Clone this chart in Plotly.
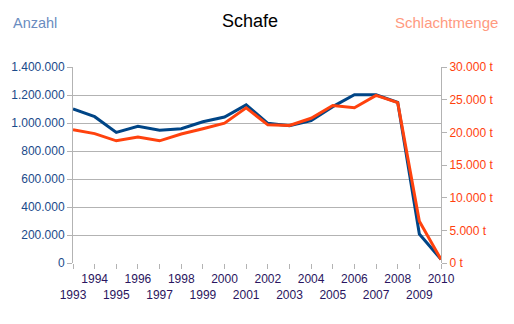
import plotly.graph_objects as go

years = list(range(1993, 2011))
anzahl = [1100000, 1045000, 933000, 976000, 948000, 959000, 1009000, 1043000, 1129000,
          998000, 981000, 1017000, 1117000, 1202000, 1202000, 1148000, 207000, 26000]
schlachtmenge = [20400, 19800, 18700, 19300, 18700, 19750, 20550, 21400, 23750,
                 21150, 21050, 22150, 24100, 23750, 25650, 24550, 6400, 550]
left_ticks = [0, 200000, 400000, 600000, 800000, 1000000, 1200000, 1400000]
right_ticks = [0, 5000, 10000, 15000, 20000, 25000, 30000]
x_labels = [str(y) if y % 2 == 0 else "\u00a0<br>" + str(y) for y in years]
left_labels = [f"{v:,}".replace(",", ".") for v in left_ticks]
right_labels = [f"{v:,}".replace(",", ".") + " t" for v in right_ticks]

BLUE = "#004586"
ORANGE = "#ff420e"
GRID = "#b3b3b3"
FONT = "Liberation Sans"

fig = go.Figure()
fig.add_trace(go.Scatter(x=years, y=anzahl, mode="lines", name="Anzahl",
                         line=dict(color=BLUE, width=3), yaxis="y"))
fig.add_trace(go.Scatter(x=years, y=schlachtmenge, mode="lines", name="Schlachtmenge",
                         line=dict(color=ORANGE, width=3), yaxis="y2"))

fig.update_layout(
    width=514, height=324,
    margin=dict(l=73, r=73, t=67, b=61),
    paper_bgcolor="white", plot_bgcolor="white",
    showlegend=False,
    font=dict(family=FONT, size=12),
    xaxis=dict(
        range=[1993, 2010], tickmode="array", tickvals=years, ticktext=x_labels,
        tickangle=0,
        showgrid=False, zeroline=False, showline=False,
        ticks="outside", ticklen=5, tickcolor=GRID,
        tickfont=dict(color="#2a1560", size=12, family=FONT),
    ),
    yaxis=dict(
        range=[0, 1400000], tickmode="array", tickvals=left_ticks, ticktext=left_labels,
        showgrid=True, gridcolor=GRID, gridwidth=1,
        zeroline=False, showline=True, linecolor=GRID, linewidth=1,
        ticks="outside", ticklen=5, tickcolor=GRID,
        tickfont=dict(color="#1a4a8a", size=12, family=FONT),
    ),
    yaxis2=dict(
        range=[0, 30000], tickmode="array", tickvals=right_ticks, ticktext=right_labels,
        overlaying="y", side="right",
        showgrid=False, zeroline=False, showline=True, linecolor=GRID, linewidth=1,
        ticks="outside", ticklen=5, tickcolor=GRID,
        tickfont=dict(color=ORANGE, size=12, family=FONT),
    ),
)

pw, ph = 514 - 73 - 73, 324 - 67 - 61
headers = [("Schafe", 250, 21, "center", 18, "#000000"),
           ("Anzahl", 11, 23, "left", 14.5, "#6a8cc0"),
           ("Schlachtmenge", 500, 23, "right", 15, "#ff9a80")]
for text, px, py, anchor, size, color in headers:
    fig.add_annotation(text=text, xref="paper", yref="paper",
                       x=(px - 73) / pw, y=(324 - 61 - py) / ph,
                       xanchor=anchor, yanchor="middle", showarrow=False,
                       font=dict(size=size, color=color, family=FONT))

fig.write_html("out.html")
